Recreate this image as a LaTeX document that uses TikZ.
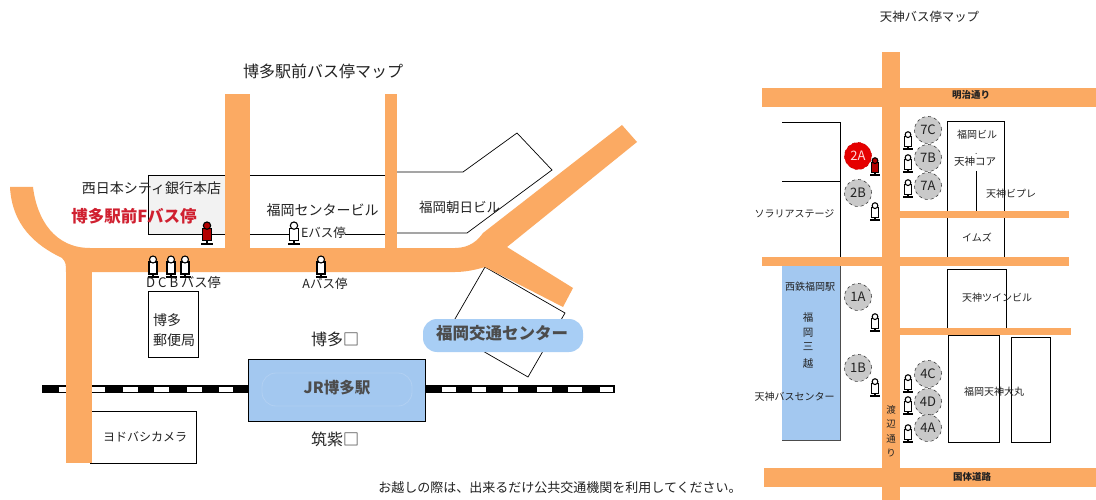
\documentclass[tikz,border=0pt]{standalone}
\usepackage{fontspec}
\setmainfont{Noto Sans CJK JP}
\definecolor{road}{HTML}{FBAA63}
\definecolor{blue1}{HTML}{A3C8F0}
\definecolor{pill}{HTML}{A8CEF5}
\definecolor{circ}{HTML}{C9C9C9}
\definecolor{redtxt}{HTML}{D02030}
\definecolor{txt}{HTML}{222222}
\newcommand{\bstop}[4]{%
 \begin{scope}[shift={(#1,#2)},scale=#3]
  \draw[line width=1.6pt,black] (-5.5,0) -- (5.5,0);
  \draw[line width=1.4pt,black] (0,0) -- (0,-4);
  \draw[line width=1.1pt,fill=#4] (-4,-3) rectangle (4,-15);
  \draw[line width=1.1pt,fill=#4] (0,-17.5) circle (3.5);
 \end{scope}}
\tikzset{
 jt/.style={font=\fontsize{#1}{#1}\selectfont,inner sep=0pt,text=txt},
 jb/.style={font=\fontsize{#1}{#1}\selectfont\bfseries,inner sep=0pt},
 bld/.style={draw=black,line width=0.9pt},
 thin bld/.style={draw=black,line width=0.7pt},
 stopcirc/.style={circle,draw=black!75,dashed,line width=0.6pt,fill=circ,minimum size=27pt,inner sep=0pt,font=\fontsize{13}{13}\selectfont,text=txt},
}
\begin{document}
\begin{tikzpicture}[x=1pt,y=-1pt]
\useasboundingbox (0,0) rectangle (1096,500);
\fill[white] (0,0) rectangle (1096,500);
% --- Hakata map: buildings under roads
\path[bld,fill=black!5] (148,175) rectangle (226,234);
\draw[bld] (148,175) -- (148,234);
\draw[bld] (250,234) -- (249,234) -- (249,175) -- (385,175) -- (385,234) -- (345,234);
\draw[bld] (249,234) -- (290,234);
\draw[thin bld] (396,172) -- (463,172) -- (517,133) -- (552,170) -- (467,233) -- (396,233) -- cycle;
\draw[thin bld] (485,267) -- (565,313) -- (528,377) -- (448,331) -- cycle;
\draw[bld] (148,291) rectangle (198,357);
\draw[bld] (90,411) rectangle (196,463);
% rail
\fill[black] (42,385) rectangle (248,393);
\fill[black] (425,385) rectangle (615,393);
\foreach \a/\b in {59/66,92/105,123/138,154/169,187/202,219/233,442/456,472/486,503/518,537/552,568/582,600/613}
  \fill[white] (\a,386.5) rectangle (\b,391.5);
% roads
\fill[road] (225,94) rectangle (250,250);
\fill[road] (385,94) rectangle (397,250);
\fill[road] (66,255) rectangle (92,463);
\fill[road] (10,187) -- (33,187) .. controls (37,220) and (55,248) .. (90,248)
  -- (455,248) .. controls (470,248) and (478,240) .. (483,233)
  -- (622,125) -- (637,142) -- (507,247) -- (573,288) -- (563,307) -- (485,267)
  .. controls (475,270) and (465,272) .. (455,272) -- (66,272)
  .. controls (66,265) and (66,262) .. (62,258) .. controls (35,245) and (12,225) .. (10,187) -- cycle;
% station
\draw[bld,fill=blue1] (248,359) rectangle (425,421);
\draw[blue1!85!white,line width=0.8pt,rounded corners=14pt] (262,373) rectangle (412,406);
% pill
\fill[pill,rounded corners=14pt] (423,319) rectangle (583,352);
% stops
\bstop{207}{244}{1.05}{red!70!black}
\bstop{294}{244}{1.05}{white}
\bstop{153}{277}{1}{white}
\bstop{171}{277}{1}{white}
\bstop{185}{277}{1}{white}
\bstop{321}{277}{1}{white}
% texts
\node[jt=16] (t1) at (323,71) {博多駅前バス停マップ};
\node[jt=14] (t2) at (151.5,188) {西日本シティ銀行本店};
\node[jb=16.5,text=redtxt] (t3) at (134,216) {博多駅前Fバス停};
\node[jt=14] (t4) at (322.5,210) {福岡センタービル};
\node[jt=12.5] (t5) at (323.5,233) {Eバス停};
\node[jt=13.5] (t6) at (459.5,207) {福岡朝日ビル};
\node[jt=13.2] (t7) at (183.5,283) {D C B バス停};
\node[jt=12.5] (t8) at (325,284) {Aバス停};
\node[jt=14,anchor=west] (t9) at (153,320) {博多};
\node[jt=14,anchor=west] (t10) at (153,340) {郵便局};
\node[jt=16] (t11) at (335,339) {博多□};
\node[jt=16] (t12) at (335,439) {筑紫□};
\node[jb=15.5,text=black!70] (t13) at (337,388) {JR博多駅};
\node[jt=12] (t14) at (145,437) {ヨドバシカメラ};
\node[jb=16.5,text=black!70] (t15) at (502,333) {福岡交通センター};
\node[jt=13] (t16) at (560,488) {お越しの際は、出来るだけ公共交通機関を利用してください。};
% --- Tenjin map
\draw[bld] (782,122) -- (840,122) -- (840,260);
\draw[bld] (782,181) -- (840,181);
\draw[bld] (947,260) -- (947,121) -- (1004,121) -- (1004,260);
\draw[bld] (976,171) -- (976,212);
\fill[black] (976,153.5) circle (0.5);
\draw[bld] (947,328) -- (947,269) -- (1006,269) -- (1006,330);
\draw[bld] (948,335) rectangle (999,442);
\draw[bld] (1011,337) rectangle (1050,442);
\fill[road] (882,52) rectangle (900,500);
\fill[road] (762,88) rectangle (1096,107);
\fill[road] (900,211) rectangle (1069,218);
\fill[road] (762,257) rectangle (1069,266);
\fill[road] (900,328) rectangle (1071,335);
\fill[road] (764,468) rectangle (1096,487);
\fill[blue1] (782,266) rectangle (840,440);
\draw[black!70,line width=1pt] (782,440) -- (840,440) -- (840,266);
\node[stopcirc] (c7c) at (928,130) {7C};
\node[stopcirc] (c7b) at (928,158) {7B};
\node[stopcirc] (c7a) at (928,186) {7A};
\node[stopcirc,fill=red!90!black,draw=red!80!black,text=white!85!red] (c2a) at (858,156) {2A};
\node[stopcirc] (c2b) at (858,193) {2B};
\node[stopcirc] (c1a) at (858,297) {1A};
\node[stopcirc] (c1b) at (858,368) {1B};
\node[stopcirc] (c4c) at (928,374) {4C};
\node[stopcirc] (c4d) at (928,402) {4D};
\node[stopcirc] (c4a) at (928,428) {4A};
\bstop{908}{149}{0.82}{white}
\bstop{908}{172}{0.82}{white}
\bstop{908}{197}{0.82}{white}
\bstop{875}{175}{0.82}{red!70!black}
\bstop{875}{220}{0.82}{white}
\bstop{875}{331}{0.82}{white}
\bstop{875}{396}{0.82}{white}
\bstop{908}{392}{0.82}{white}
\bstop{908}{414}{0.82}{white}
\bstop{908}{442}{0.82}{white}
\node[jt=12.4] (r1) at (929.5,17) {天神バス停マップ};
\node[jb=9.5,text=txt] (r2) at (971,95) {明治通り};
\node[jt=10] (r3) at (977,135) {福岡ビル};
\node[jt=10.5] (r4) at (975,162) {天神コア};
\node[jt=10] (r5) at (1011,194) {天神ビプレ};
\node[jt=10] (r6) at (977,237) {イムズ};
\node[jt=10] (r7) at (794.5,214) {ソラリアステージ};
\node[jt=10] (r8) at (810,287) {西鉄福岡駅};
\node[jt=10.5] (r9) at (808,318) {福};
\node[jt=10.5] (r10) at (808,333) {岡};
\node[jt=10.5] (r11) at (808,347) {三};
\node[jt=10.5] (r12) at (808,363) {越};
\node[jt=10] (r13) at (794.5,397) {天神バスセンター};
\node[jt=10] (r14) at (997,298) {天神ツインビル};
\node[jt=10] (r15) at (994,392) {福岡天神大丸};
\node[jb=9.5,text=txt] (r16) at (972,477) {国体道路};
\node[jt=9.5] (r17) at (891,410) {渡};
\node[jt=9.5] (r18) at (891,424) {辺};
\node[jt=9.5] (r19) at (891,439) {通};
\node[jt=9.5] (r20) at (891,453) {り};
\end{tikzpicture}
\end{document}
